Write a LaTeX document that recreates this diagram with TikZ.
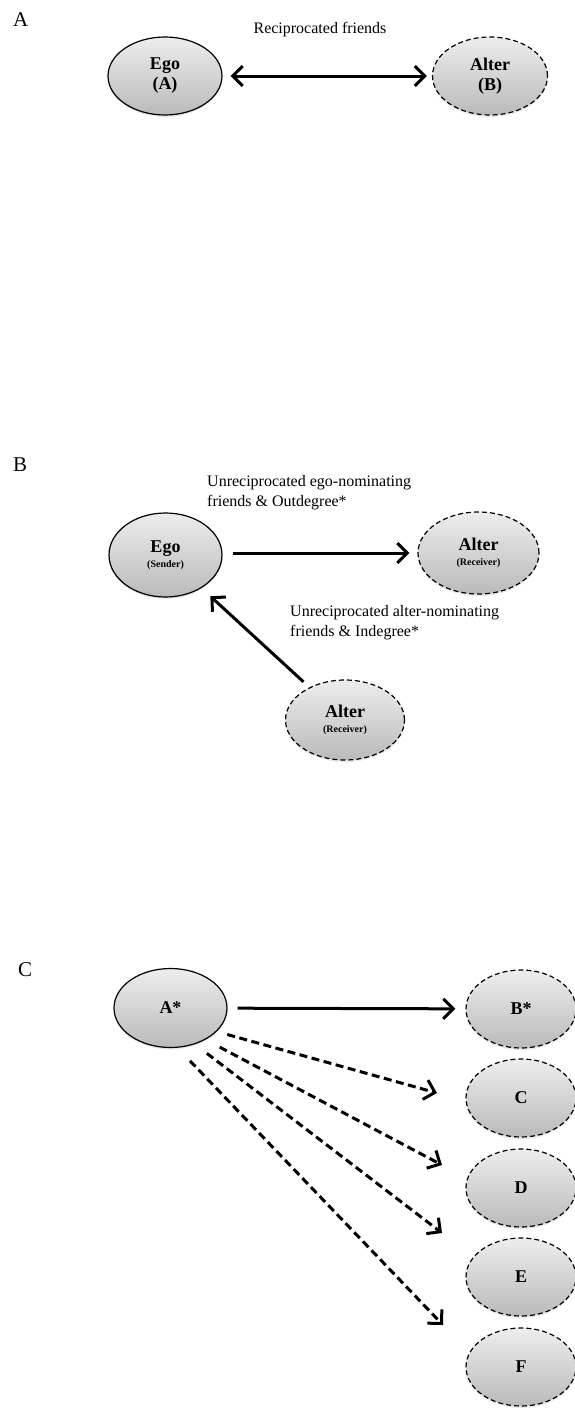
\documentclass[tikz,border=0pt]{standalone}
\usepackage{fontspec}
\setmainfont{Liberation Serif}
\usetikzlibrary{arrows.meta,shapes.geometric,shadows}
\tikzset{
person/.style={ellipse, draw=black, line width=1.2pt, inner sep=0pt, align=center,
    top color=black!7, bottom color=black!27,
    drop shadow={opacity=.18, shadow xshift=0pt, shadow yshift=-2pt},
    font=\fontsize{18}{20}\selectfont\bfseries},
egobox/.style={person},
alterbox/.style={person, dash pattern=on 5pt off 3pt},
tie/.style={line width=3pt, -{Straight Barb[length=10pt,width=20pt]}},
bitie/.style={tie, {Straight Barb[length=10pt,width=20pt]}-{Straight Barb[length=10pt,width=20pt]}},
maybetie/.style={tie, dash pattern=on 8pt off 4.5pt},
panel/.style={font=\fontsize{21}{24}\selectfont, anchor=west, inner sep=0pt},
tietext/.style={font=\fontsize{16}{20}\selectfont, align=left, inner sep=0pt},
}
\newcommand{\rolesmall}[1]{\\[-5pt]{\fontsize{10}{11}\selectfont #1}}

\begin{document}
\begin{tikzpicture}[x=1pt, y=-1pt]
        \useasboundingbox (0,0) rectangle (575,1408);

        % A: reciprocated
        \node[panel] (panelA) at (13,20) {A};
        \node[egobox, minimum width=114pt, minimum height=78pt] (egoA) at (165,76) {Ego\\(A)};
        \node[alterbox, minimum width=115pt, minimum height=78pt] (alterA) at (490,76) {Alter\\(B)};
        \draw[bitie, shorten <=8pt, shorten >=5pt] (egoA) -- (alterA);
        \node[tietext] (recipText) at (320,30) {Reciprocated friends};

        % B: unreciprocated
        \node[panel] (panelB) at (13,465) {B};
        \node[egobox, minimum width=113pt, minimum height=84pt] (egoB) at (165.5,555) {Ego\rolesmall{(Sender)}};
        \node[alterbox, minimum width=121pt, minimum height=82pt] (alterB) at (478.5,553) {Alter\rolesmall{(Receiver)}};
        \node[alterbox, minimum width=119pt, minimum height=80pt] (alterBin) at (345,720) {Alter\rolesmall{(Receiver)}};
        \draw[tie, shorten <=10pt, shorten >=8pt] (egoB.east |- alterB.west) -- (alterB);
        \draw[tie, shorten <=8pt, shorten >=12pt] (alterBin) -- (egoB);
        \node[tietext, anchor=west] (outText) at (207,492.5) {Unreciprocated ego-nominating\\friends \& Outdegree*};
        \node[tietext, anchor=west] (inText) at (290,622.5) {Unreciprocated alter-nominating\\friends \& Indegree*};

        % C: one ego, many alters
        \node[panel] (panelC) at (18,970) {C};
        \node[egobox, minimum width=113pt, minimum height=79pt] (egoC) at (170.5,1008) {A*};
        \node[alterbox, minimum width=110pt, minimum height=78pt] (altB) at (521,1009) {B*};
        \node[alterbox, minimum width=110pt, minimum height=78pt] (altC) at (521,1098) {C};
        \node[alterbox, minimum width=110pt, minimum height=78pt] (altD) at (521,1188) {D};
        \node[alterbox, minimum width=110pt, minimum height=78pt] (altE) at (521,1277) {E};
        \node[alterbox, minimum width=110pt, minimum height=78pt] (altF) at (521,1367) {F};

        \coordinate (tipC) at (437,1093);
        \coordinate (tipD) at (442,1165);
        \coordinate (tipE) at (442,1233);
        \coordinate (tipF) at (443,1325);

        \draw[tie, shorten <=10pt, shorten >=10pt] (egoC) -- (altB);
        \draw[maybetie, shorten <=11pt] (egoC.-27) -- (tipC);
        \draw[maybetie, shorten <=16pt] (egoC.-42) -- (tipD);
        \draw[maybetie, shorten <=15pt] (egoC.-56) -- (tipE);
        \draw[maybetie, shorten <=18pt] (egoC.-80) -- (tipF);
\end{tikzpicture}
\end{document}
